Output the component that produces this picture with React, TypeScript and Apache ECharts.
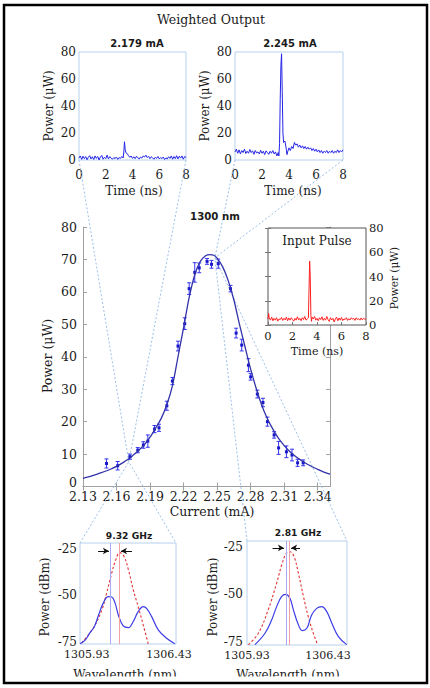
import React, { useEffect, useRef } from 'react';
import * as echarts from 'echarts';

// ---------- DATA ----------
// Weighted output traces (time ns, power uW)
const trace2179: number[][] = [
  [0, 1.5], [0.1, 3.0], [0.2, 0.5], [0.3, 2.8], [0.4, 1.0], [0.5, 2.5], [0.6, 0.2], [0.7, 2.0], [0.8, 3.2], [0.9, 0.8],
  [1.0, 2.4], [1.1, 0.4], [1.2, 3.0], [1.3, 1.2], [1.4, 2.6], [1.5, 0.0], [1.6, 2.2], [1.7, 3.4], [1.8, 0.6], [1.9, 2.0],
  [2.0, 1.0], [2.1, 3.6], [2.2, 0.8], [2.3, 2.5], [2.4, 1.4], [2.5, 0.6], [2.6, 1.8], [2.7, 1.0], [2.8, 2.2], [2.9, 0.5],
  [3.0, 1.8], [3.1, 1.2], [3.2, 2.6], [3.3, 1.5], [3.35, 6.0], [3.4, 13.5], [3.45, 8.0], [3.5, 5.5], [3.6, 4.8], [3.7, 3.2],
  [3.8, 2.0], [3.9, 3.0], [4.0, 1.2], [4.1, 2.4], [4.2, 1.0], [4.3, 2.8], [4.4, 1.6], [4.5, 0.8], [4.6, 2.2], [4.7, 1.4],
  [4.8, 3.0], [4.9, 2.2], [5.0, 3.6], [5.1, 1.8], [5.2, 2.8], [5.3, 1.0], [5.4, 2.4], [5.5, 1.6], [5.6, 0.6], [5.7, 2.0],
  [5.8, 1.2], [5.9, 2.6], [6.0, 0.8], [6.1, 1.8], [6.2, 1.0], [6.3, 2.2], [6.4, 0.4], [6.5, 1.6], [6.6, 0.8], [6.7, 2.4],
  [6.8, 1.2], [6.9, 3.0], [7.0, 0.6], [7.1, 2.6], [7.2, 1.0], [7.3, 3.2], [7.4, 0.8], [7.5, 2.8], [7.6, 1.4], [7.7, 3.0],
  [7.8, 0.6], [7.9, 2.6], [8.0, 1.8],
];
const trace2245: number[][] = [
  [0, 6], [0.1, 8], [0.2, 5], [0.3, 7.5], [0.4, 4.5], [0.5, 7], [0.6, 5.5], [0.7, 8], [0.8, 4.8], [0.9, 6.5],
  [1.0, 5], [1.1, 7.8], [1.2, 5.5], [1.3, 6.8], [1.4, 4.2], [1.5, 7], [1.6, 5.2], [1.7, 6], [1.8, 4.5], [1.9, 7.2],
  [2.0, 5], [2.1, 6.5], [2.2, 4], [2.3, 6.8], [2.4, 5.5], [2.5, 4.2], [2.6, 6.5], [2.7, 5], [2.8, 7], [2.9, 4.5],
  [3.0, 6], [3.1, 3], [3.2, 5.5], [3.25, 3], [3.3, 12], [3.35, 45], [3.4, 70], [3.45, 78.7], [3.5, 50], [3.55, 20],
  [3.6, 13], [3.7, 14], [3.8, 8], [3.85, 4], [3.9, 6], [4.0, 9], [4.1, 7], [4.2, 10], [4.3, 8.5], [4.4, 13],
  [4.5, 11], [4.6, 12], [4.7, 9.5], [4.8, 11], [4.9, 9], [5.0, 10.5], [5.1, 8.5], [5.2, 10], [5.3, 8], [5.4, 9.5],
  [5.5, 8], [5.6, 9], [5.7, 7], [5.8, 8.5], [5.9, 6.5], [6.0, 8], [6.1, 6], [6.2, 7.5], [6.3, 5.5], [6.4, 7],
  [6.5, 5], [6.6, 6.5], [6.7, 5.5], [6.8, 7], [6.9, 5], [7.0, 6.5], [7.1, 5.5], [7.2, 7], [7.3, 5], [7.4, 6.5],
  [7.5, 5.5], [7.6, 7.5], [7.7, 5.5], [7.8, 7], [7.9, 6], [8.0, 7.5],
];
const inputPulse: number[][] = [
  [0, 5], [0.05, 9.5], [0.1, 6], [0.2, 4], [0.3, 6.5], [0.4, 3.5], [0.5, 5.5], [0.6, 4], [0.7, 6], [0.8, 3.2],
  [0.9, 5], [1.0, 4.5], [1.1, 6.2], [1.2, 3.8], [1.3, 5.5], [1.4, 4.2], [1.5, 6.5], [1.6, 3.5], [1.7, 5.8], [1.8, 4],
  [1.9, 6], [2.0, 4.5], [2.1, 3.2], [2.2, 5.5], [2.3, 4], [2.4, 6.8], [2.5, 4.2], [2.6, 5.5], [2.7, 3.5], [2.8, 6],
  [2.9, 4.5], [3.0, 7], [3.1, 4], [3.2, 5], [3.3, 6], [3.35, 30], [3.4, 52.8], [3.45, 40], [3.5, 8], [3.55, 3],
  [3.6, 6.5], [3.7, 5], [3.8, 7], [3.9, 4], [4.0, 5.5], [4.1, 3.5], [4.2, 6], [4.3, 4.5], [4.4, 6.8], [4.5, 3.8],
  [4.6, 5.5], [4.7, 4], [4.8, 7], [4.9, 4.5], [5.0, 3], [5.1, 6], [5.2, 4.2], [5.3, 5.5], [5.4, 2.5], [5.5, 5],
  [5.6, 6.5], [5.7, 3.5], [5.8, 5.8], [5.9, 4], [6.0, 6.2], [6.1, 3.6], [6.2, 5], [6.3, 4.5], [6.4, 6], [6.5, 3.8],
  [6.6, 5.2], [6.7, 4.2], [6.8, 6], [6.9, 4.8], [7.0, 5.5], [7.1, 3.8], [7.2, 6], [7.3, 4.5], [7.4, 5.2], [7.5, 4],
  [7.6, 5.8], [7.7, 4.2], [7.8, 5.5], [7.9, 4.8], [8.0, 5],
];

// Main chart: measured points [current mA, power uW, error uW]
const measured: number[][] = [
  [2.151, 7.1, 1.4], [2.161, 6.4, 1.3], [2.172, 9.2, 0.8], [2.179, 11.2, 0.8], [2.184, 12.8, 1.0],
  [2.188, 14.0, 1.9], [2.194, 17.7, 1.1], [2.198, 18.1, 1.1], [2.205, 24.9, 1.4], [2.210, 32.5, 1.1],
  [2.215, 43.3, 1.5], [2.221, 50.2, 1.8], [2.225, 61.0, 1.8], [2.230, 66.0, 3.0], [2.234, 67.4, 1.5],
  [2.241, 69.4, 0.9], [2.245, 68.5, 1.2], [2.251, 68.7, 1.4], [2.262, 61.0, 1.0], [2.267, 47.3, 1.5],
  [2.272, 43.6, 1.8], [2.278, 37.4, 2.0], [2.280, 33.8, 1.0], [2.286, 28.5, 1.2], [2.291, 25.9, 1.3],
  [2.295, 20.0, 1.4], [2.301, 15.9, 1.0], [2.305, 11.9, 2.0], [2.312, 10.7, 1.8], [2.317, 9.7, 1.8],
  [2.322, 7.3, 1.1], [2.327, 7.3, 0.9],
];
// Main chart: fitted curve [current mA, power uW]
const fitCurve: number[][] = [
  [2.130, 2.5], [2.135, 3.0], [2.140, 3.5], [2.145, 4.1], [2.150, 4.7], [2.155, 5.4], [2.160, 6.2], [2.165, 7.2],
  [2.170, 8.3], [2.175, 9.7], [2.180, 11.2], [2.185, 12.9], [2.190, 15.2], [2.195, 18.0], [2.200, 21.0], [2.205, 25.2],
  [2.210, 31.0], [2.215, 40.0], [2.220, 49.0], [2.225, 58.3], [2.230, 65.3], [2.235, 69.4], [2.240, 71.2], [2.2435, 71.5],
  [2.247, 71.3], [2.250, 70.4], [2.255, 67.7], [2.260, 63.4], [2.265, 57.5], [2.270, 50.0], [2.275, 43.0], [2.280, 36.2],
  [2.285, 30.2], [2.290, 25.0], [2.295, 20.9], [2.300, 17.6], [2.305, 14.8], [2.310, 12.6], [2.315, 10.8], [2.320, 9.3],
  [2.325, 8.1], [2.330, 7.0], [2.335, 6.1], [2.340, 5.3], [2.345, 4.5], [2.351, 3.8],
];
const currentTicks = [2.13, 2.16, 2.19, 2.22, 2.25, 2.28, 2.31, 2.34];
// Zoom anchor points on the main chart [current, power]
const anchor2179 = [2.171, 7.6];
const anchor2245 = [2.248, 70.5];

// Spectra (wavelength nm, dBm)
const wavelengthTicks = [1305.93, 1306.43];
const dbmTicks = [-25, -50, -75];
const spec932Measured: number[][] = [
  [1305.889, -76], [1305.920, -74], [1305.950, -70], [1305.976, -66.8], [1306.000, -61], [1306.031, -54],
  [1306.061, -50.6], [1306.082, -50.8], [1306.102, -54], [1306.122, -60.5], [1306.152, -66.4], [1306.183, -67.3],
  [1306.213, -64], [1306.243, -58.7], [1306.274, -56], [1306.294, -57], [1306.325, -61.4], [1306.365, -68.5],
  [1306.416, -73], [1306.466, -76],
];
const spec932Input: number[][] = [
  [1305.899, -75.5], [1305.970, -67.5], [1306.021, -58], [1306.051, -48.7], [1306.082, -38], [1306.102, -32],
  [1306.132, -27], [1306.157, -29], [1306.183, -36], [1306.213, -47], [1306.243, -56], [1306.274, -66], [1306.304, -76],
];
const spec281Measured: number[][] = [
  [1305.979, -76.4], [1306.041, -70.4], [1306.082, -63.4], [1306.113, -56.4], [1306.144, -51], [1306.169, -49.9],
  [1306.195, -52], [1306.216, -58], [1306.243, -65], [1306.271, -69], [1306.299, -67.8], [1306.329, -60.8],
  [1306.360, -57.3], [1306.391, -56.4], [1306.422, -59], [1306.453, -65], [1306.494, -72.2], [1306.545, -76.4],
];
const spec281Input: number[][] = [
  [1305.938, -76.4], [1306.000, -70.4], [1306.061, -58], [1306.113, -44], [1306.144, -34.5], [1306.175, -28],
  [1306.195, -27.5], [1306.220, -30], [1306.247, -38.8], [1306.278, -51], [1306.308, -61.7], [1306.339, -70.4],
  [1306.366, -76.4],
];
// Peak markers [measured peak, input peak] and arrows [from, to] at a level (dBm)
const peaks932 = [1306.072, 1306.132];
const arrows932 = [[1305.999, 1306.065], [1306.205, 1306.138]];
const arrowLevel932 = -26.1;
const peaks281 = [1306.171, 1306.189];
const arrows281 = [[1306.088, 1306.158], [1306.257, 1306.202]];
const arrowLevel281 = -25.5;

// ---------- LAYOUT / STYLE ----------
const G = {
  tl: { left: 79, top: 52, width: 107, height: 108 },
  tr: { left: 235, top: 52, width: 108, height: 108 },
  main: { left: 83, top: 227, width: 247, height: 259.5 },
  inset: { left: 268, top: 228, width: 98, height: 97 },
  bl: { left: 80, top: 543, width: 96, height: 101 },
  br: { left: 247, top: 541, width: 100, height: 104 },
};
const SERIF = 'DejaVu Serif';
const SANS = 'DejaVu Sans';
const BOXBLUE = '#b6d0f0';
const CONN = '#9cc0ea';
const TXT = '#1a1a1a';

const lbl = (size: number, margin: number, extra: any = {}) => ({
  fontFamily: SERIF, fontSize: size, color: TXT, margin, ...extra,
});

function text(x: number, y: number, t: string, size: number, opts: any = {}) {
  return {
    type: 'text', x, y, z: opts.z ?? 50, rotation: opts.rot ?? 0, silent: true,
    style: {
      text: t, fontFamily: opts.family ?? SERIF, fontSize: size, fontWeight: opts.weight ?? 'normal',
      fill: opts.fill ?? TXT, align: 'center', verticalAlign: 'middle',
    },
  };
}

export default function App() {
  const ref = useRef<HTMLDivElement>(null);
  useEffect(() => {
    document.body.style.margin = '0';
    const chart = echarts.init(ref.current!, null, { renderer: 'svg' });

    const hidden = { show: false };
    const timeX = (gi: number, extra: any = {}) => ({
      type: 'value', gridIndex: gi, min: 0, max: 8, interval: 2,
      axisLine: hidden, axisTick: hidden, splitLine: hidden,
      axisLabel: lbl(12, 9), ...extra,
    });
    const powerY = (gi: number, extra: any = {}) => ({
      type: 'value', gridIndex: gi, min: 0, max: 80, interval: 20,
      axisLine: hidden, axisTick: hidden, splitLine: hidden,
      axisLabel: lbl(12, 3), ...extra,
    });
    const mainLine = { show: true, lineStyle: { color: '#a0a0a0', width: 1 } };
    const mainTick = { show: true, inside: true, length: 4, lineStyle: { color: '#a0a0a0' } };

    const option: any = {
      animation: false,
      backgroundColor: '#fff',
      grid: [
        { ...G.tl, show: true, borderColor: BOXBLUE, borderWidth: 1 },
        { ...G.tr, show: true, borderColor: BOXBLUE, borderWidth: 1 },
        { ...G.main },
        { ...G.inset, show: true, backgroundColor: '#fff', borderColor: '#555', borderWidth: 1, z: 10 },
        { ...G.bl, show: true, borderColor: BOXBLUE, borderWidth: 1 },
        { ...G.br, show: true, borderColor: BOXBLUE, borderWidth: 1 },
      ],
      xAxis: [
        timeX(0),
        timeX(1),
        {
          type: 'value', gridIndex: 2, min: 2.13, max: 2.351, position: 'bottom',
          axisLine: mainLine, splitLine: hidden,
          axisTick: { ...mainTick, customValues: currentTicks },
          axisLabel: lbl(12.5, 3, { customValues: currentTicks, formatter: (v: number) => v.toFixed(2) }),
        },
        {
          type: 'value', gridIndex: 2, min: 2.13, max: 2.351, position: 'top',
          axisLine: mainLine, splitLine: hidden,
          axisTick: { ...mainTick, customValues: currentTicks },
          axisLabel: hidden,
        },
        timeX(3, { axisLabel: lbl(11.5, 5), z: 11, axisTick: { show: true, inside: true, length: 3, lineStyle: { color: '#777' } } }),
        {
          type: 'value', gridIndex: 4, min: 1305.889, max: 1306.473,
          axisLine: hidden, axisTick: hidden, splitLine: hidden,
          axisLabel: lbl(11, 5, { customValues: wavelengthTicks, formatter: (v: number) => v.toFixed(2) }),
        },
        {
          type: 'value', gridIndex: 5, min: 1305.93, max: 1306.547,
          axisLine: hidden, axisTick: hidden, splitLine: hidden,
          axisLabel: lbl(11, 5, { customValues: wavelengthTicks, formatter: (v: number) => v.toFixed(2) }),
        },
      ],
      yAxis: [
        powerY(0),
        powerY(1),
        {
          type: 'value', gridIndex: 2, min: 0, max: 80, interval: 10, position: 'left',
          axisLine: mainLine, axisTick: mainTick, splitLine: hidden,
          axisLabel: lbl(12.5, 6, {
            formatter: (v: number) => (v === 0 ? '{z|0}' : String(v)),
            rich: { z: { fontFamily: SERIF, fontSize: 12.5, color: TXT, padding: [0, 0, 8, 0] } },
          }),
        },
        {
          type: 'value', gridIndex: 2, min: 0, max: 80, interval: 10, position: 'right',
          axisLine: mainLine, axisTick: mainTick, splitLine: hidden, axisLabel: hidden,
        },
        powerY(3, {
          position: 'right', z: 11, axisLabel: lbl(11.5, 3),
          axisTick: { show: true, inside: true, length: 3, lineStyle: { color: '#777' } },
        }),
        powerY(3, {
          position: 'left', z: 11, axisLabel: hidden,
          axisTick: { show: true, inside: true, length: 3, lineStyle: { color: '#777' } },
        }),
        {
          type: 'value', gridIndex: 4, min: -76.1, max: -21.8,
          axisLine: hidden, axisTick: hidden, splitLine: hidden,
          axisLabel: lbl(12, 3, { customValues: dbmTicks }),
        },
        {
          type: 'value', gridIndex: 5, min: -76.6, max: -21.84,
          axisLine: hidden, axisTick: hidden, splitLine: hidden,
          axisLabel: lbl(12, 4, { customValues: dbmTicks }),
        },
      ],
      series: [
        {
          type: 'line', xAxisIndex: 0, yAxisIndex: 0, data: trace2179, showSymbol: false,
          lineStyle: { color: '#2424e6', width: 1 }, itemStyle: { color: '#2424e6' },
        },
        {
          type: 'line', xAxisIndex: 1, yAxisIndex: 1, data: trace2245, showSymbol: false,
          lineStyle: { color: '#2424e6', width: 1 }, itemStyle: { color: '#2424e6' },
        },
        {
          type: 'line', xAxisIndex: 2, yAxisIndex: 2, data: fitCurve, showSymbol: false, smooth: 0.3,
          lineStyle: { color: '#3232aa', width: 1.3 }, itemStyle: { color: '#3232aa' },
        },
        {
          type: 'custom', xAxisIndex: 2, yAxisIndex: 2, data: measured, encode: { x: 0, y: 1 }, clip: false,
          renderItem: (_p: any, api: any) => {
            const x = api.value(0), y = api.value(1), e = api.value(2);
            const hi = api.coord([x, y + e]);
            const lo = api.coord([x, y - e]);
            const c = api.coord([x, y]);
            const w = 2;
            const st = { stroke: '#3434f0', lineWidth: 1 };
            return {
              type: 'group', children: [
                { type: 'line', shape: { x1: hi[0], y1: hi[1], x2: lo[0], y2: lo[1] }, style: st },
                { type: 'line', shape: { x1: hi[0] - w, y1: hi[1], x2: hi[0] + w, y2: hi[1] }, style: st },
                { type: 'line', shape: { x1: lo[0] - w, y1: lo[1], x2: lo[0] + w, y2: lo[1] }, style: st },
                { type: 'rect', shape: { x: c[0] - 1.5, y: c[1] - 1.5, width: 3, height: 3 }, style: { fill: '#1818c8' } },
              ],
            };
          },
        },
        {
          type: 'line', xAxisIndex: 4, yAxisIndex: 4, data: inputPulse, showSymbol: false, z: 12,
          lineStyle: { color: '#ff2020', width: 1 }, itemStyle: { color: '#ff2020' },
        },
        // spectra 9.32 GHz
        {
          type: 'line', xAxisIndex: 5, yAxisIndex: 6, data: spec932Input, showSymbol: false, smooth: 0.4,
          lineStyle: { color: '#e03434', width: 1.1, type: [2.5, 2] }, itemStyle: { color: '#e03434' },
        },
        {
          type: 'line', xAxisIndex: 5, yAxisIndex: 6, data: spec932Measured, showSymbol: false, smooth: 0.4,
          lineStyle: { color: '#3c3ce6', width: 1.2 }, itemStyle: { color: '#3c3ce6' },
          markLine: {
            silent: true, animation: false, label: { show: false }, symbol: 'none',
            data: [
              { xAxis: peaks932[0], lineStyle: { color: '#a8a8f4', type: 'solid', width: 1 } },
              { xAxis: peaks932[1], lineStyle: { color: '#f4a0a0', type: 'solid', width: 1 } },
              ...arrows932.map((a) => [
                { coord: [a[0], arrowLevel932], symbol: 'none', lineStyle: { color: '#111', type: 'solid', width: 1 } },
                { coord: [a[1], arrowLevel932], symbol: 'arrow', symbolSize: [5, 6] },
              ]),
            ],
          },
        },
        // spectra 2.81 GHz
        {
          type: 'line', xAxisIndex: 6, yAxisIndex: 7, data: spec281Input, showSymbol: false, smooth: 0.4,
          lineStyle: { color: '#e03434', width: 1.1, type: [2.5, 2] }, itemStyle: { color: '#e03434' },
        },
        {
          type: 'line', xAxisIndex: 6, yAxisIndex: 7, data: spec281Measured, showSymbol: false, smooth: 0.4,
          lineStyle: { color: '#3c3ce6', width: 1.2 }, itemStyle: { color: '#3c3ce6' },
          markLine: {
            silent: true, animation: false, label: { show: false }, symbol: 'none',
            data: [
              { xAxis: peaks281[0], lineStyle: { color: '#a8a8f4', type: 'solid', width: 1 } },
              { xAxis: peaks281[1], lineStyle: { color: '#f4a0a0', type: 'solid', width: 1 } },
              ...arrows281.map((a) => [
                { coord: [a[0], arrowLevel281], symbol: 'none', lineStyle: { color: '#111', type: 'solid', width: 1 } },
                { coord: [a[1], arrowLevel281], symbol: 'arrow', symbolSize: [5, 6] },
              ]),
            ],
          },
        },
      ],
    };
    chart.setOption(option);

    const p1 = chart.convertToPixel({ xAxisIndex: 2, yAxisIndex: 2 }, anchor2179) as number[];
    const p2 = chart.convertToPixel({ xAxisIndex: 2, yAxisIndex: 2 }, anchor2245) as number[];
    const bottomOf = (g: any) => g.top + g.height;
    const conn = (pts: number[][]) => ({
      type: 'polyline', z: 1, silent: true, shape: { points: pts },
      style: { stroke: CONN, lineWidth: 1, lineDash: [2, 2], fill: 'none' },
    });

    const elements: any[] = [
      conn([[G.tl.left, bottomOf(G.tl)], p1, [G.bl.left + G.bl.width, G.bl.top]]),
      conn([[G.tl.left + G.tl.width, bottomOf(G.tl)], p1, [G.bl.left, G.bl.top]]),
      conn([[G.tr.left, bottomOf(G.tr)], p2, [G.br.left + G.br.width, G.br.top]]),
      conn([[G.tr.left + G.tr.width, bottomOf(G.tr)], p2, [G.br.left, G.br.top]]),
      text(211, 19, 'Weighted Output', 12.5),
      text(137, 43, '2.179 mA', 10, { family: SANS, weight: 'bold' }),
      text(290, 43, '2.245 mA', 10, { family: SANS, weight: 'bold' }),
      text(49, 106, 'Power (\u03BCW)', 12, { rot: Math.PI / 2 }),
      text(205, 106, 'Power (\u03BCW)', 12, { rot: Math.PI / 2 }),
      text(134, 191, 'Time (ns)', 12),
      text(293, 191, 'Time (ns)', 12),
      text(215, 216.5, '1300 nm', 10.2, { family: SANS, weight: 'bold' }),
      text(47, 356, 'Power (\u03BCW)', 12.5, { rot: Math.PI / 2 }),
      text(212, 511, 'Current (mA)', 12.5),
      text(317, 241, 'Input Pulse', 12, { z: 20 }),
      text(394, 278, 'Power (\u03BCW)', 10.5, { rot: Math.PI / 2 }),
      text(317, 351, 'Time (ns)', 11),
      text(129, 535, '9.32 GHz', 9.2, { family: SANS, weight: 'bold' }),
      text(298, 532, '2.81 GHz', 9.2, { family: SANS, weight: 'bold' }),
      text(45, 597, 'Power (dBm)', 12, { rot: Math.PI / 2 }),
      text(213, 597, 'Power (dBm)', 12, { rot: Math.PI / 2 }),
      text(125, 675, 'Wavelength (nm)', 12),
      text(288, 675, 'Wavelength (nm)', 12),
      {
        type: 'rect', z: 90, silent: true, shape: { x: 5, y: 676.5, width: 421, height: 6 },
        style: { fill: '#fff', stroke: 'none' },
      },
      {
        type: 'rect', z: 100, silent: true, shape: { x: 4, y: 5, width: 423, height: 678 },
        style: { fill: 'none', stroke: '#000', lineWidth: 2.5 },
      },
    ];
    chart.setOption({ graphic: { elements } });

    return () => chart.dispose();
  }, []);
  return <div ref={ref} style={{ width: 430, height: 688 }} />;
}
